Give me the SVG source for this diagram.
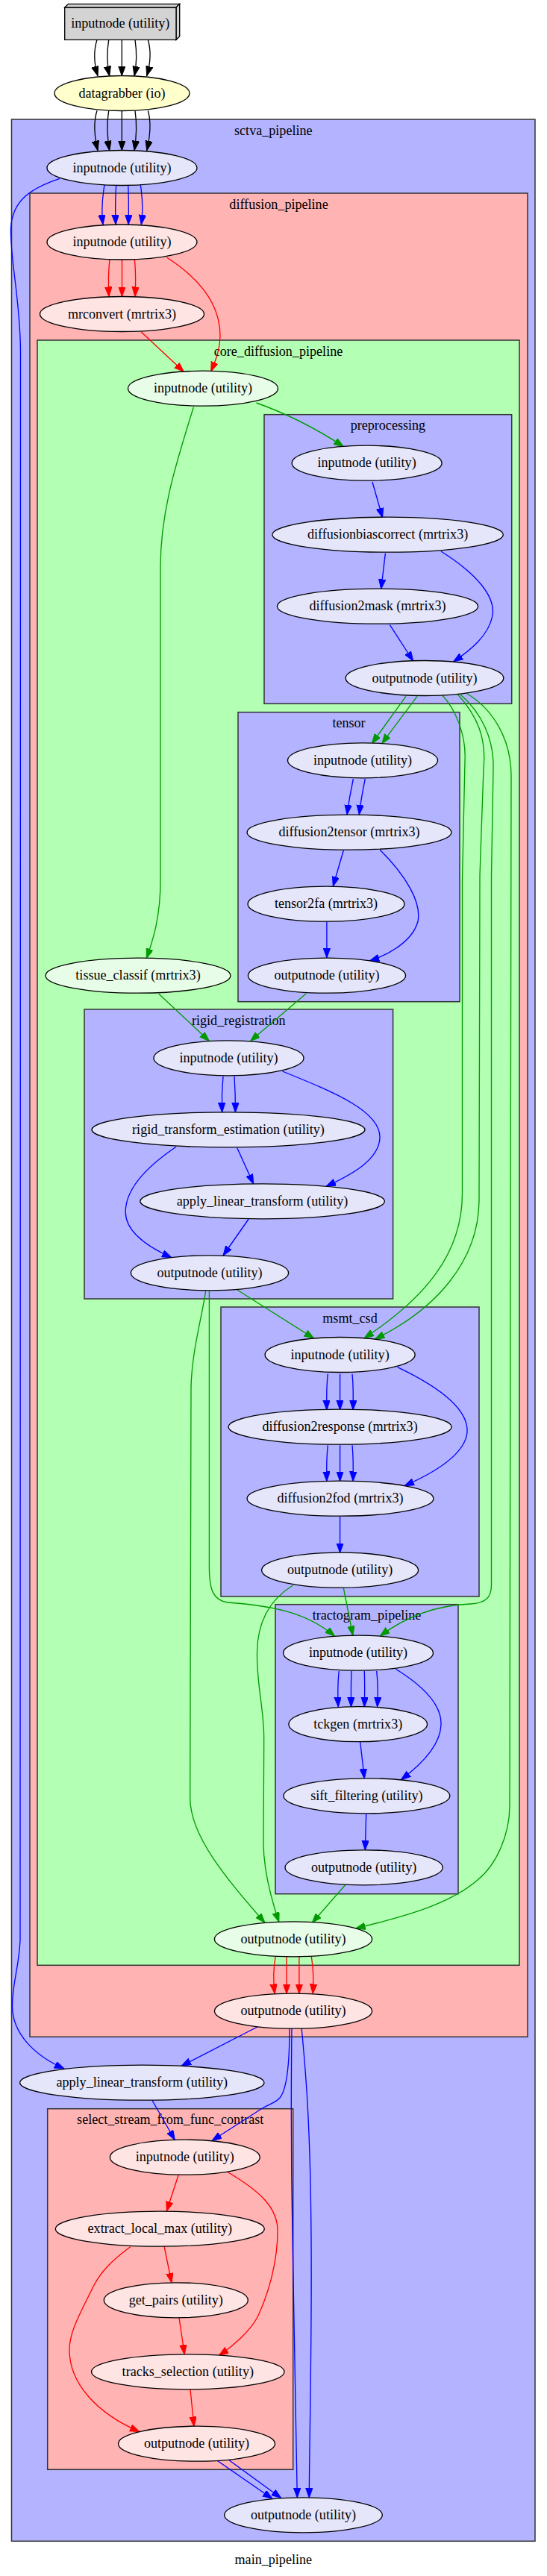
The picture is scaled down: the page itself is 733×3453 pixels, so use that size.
<svg xmlns="http://www.w3.org/2000/svg" width="733" height="3453" viewBox="0 0 733 3453">
<defs>
<style>
.t{font-family:"Liberation Serif","Times New Roman",serif;font-size:18.1px;text-anchor:middle;fill:#000}
.nd ellipse,.nd polygon{stroke:#000;stroke-width:1.33}
.cl rect{stroke:#333;stroke-width:1.5}
.cb{fill:#b3b3ff}.cr{fill:#ffb3b3}.cg{fill:#b3ffb3}
.fb{fill:#e6e6fa}.fr{fill:#ffe4e4}.fg{fill:#e8fde8}
.e{fill:none;stroke-width:1.33}
.k{stroke:#000;marker-end:url(#mk)}
.b{stroke:#0000ff;marker-end:url(#mb)}
.r{stroke:#ff0000;marker-end:url(#mr)}
.g{stroke:#009a00;marker-end:url(#mg)}
</style>
<marker id="mk" markerUnits="userSpaceOnUse" markerWidth="14" markerHeight="10" refX="13" refY="4.7" orient="auto"><path d="M0,0 L13,4.7 L0,9.4 z" fill="#000" stroke="#000" stroke-width="1"/></marker>
<marker id="mb" markerUnits="userSpaceOnUse" markerWidth="14" markerHeight="10" refX="13" refY="4.7" orient="auto"><path d="M0,0 L13,4.7 L0,9.4 z" fill="#0000ff" stroke="#0000ff" stroke-width="1"/></marker>
<marker id="mr" markerUnits="userSpaceOnUse" markerWidth="14" markerHeight="10" refX="13" refY="4.7" orient="auto"><path d="M0,0 L13,4.7 L0,9.4 z" fill="#ff0000" stroke="#ff0000" stroke-width="1"/></marker>
<marker id="mg" markerUnits="userSpaceOnUse" markerWidth="14" markerHeight="10" refX="13" refY="4.7" orient="auto"><path d="M0,0 L13,4.7 L0,9.4 z" fill="#009a00" stroke="#009a00" stroke-width="1"/></marker>
</defs>
<rect x="0" y="0" width="733" height="3453" fill="#fff"/>

<g id="clusters" class="cl">
<g id="cluster_sctva"><rect class="cb" x="15.5" y="160" width="701.5" height="3246.3"/><text class="t" x="366.3" y="180.5">sctva_pipeline</text></g>
<g id="cluster_diffusion"><rect class="cr" x="40" y="259" width="667" height="2471.3"/><text class="t" x="373.5" y="279.5">diffusion_pipeline</text></g>
<g id="cluster_core"><rect class="cg" x="50" y="456" width="646" height="2178.3"/><text class="t" x="373" y="476.5">core_diffusion_pipeline</text></g>
<g id="cluster_preproc"><rect class="cb" x="354" y="555.7" width="331.7" height="387.6"/><text class="t" x="519.9" y="576">preprocessing</text></g>
<g id="cluster_tensor"><rect class="cb" x="319" y="954.7" width="297" height="388"/><text class="t" x="467.5" y="975">tensor</text></g>
<g id="cluster_rigid"><rect class="cb" x="113" y="1353" width="413.6" height="388"/><text class="t" x="319.8" y="1373.5">rigid_registration</text></g>
<g id="cluster_msmt"><rect class="cb" x="296" y="1752" width="346" height="388"/><text class="t" x="469" y="1772.5">msmt_csd</text></g>
<g id="cluster_tracto"><rect class="cb" x="369" y="2150.7" width="245" height="388"/><text class="t" x="491.5" y="2171">tractogram_pipeline</text></g>
<g id="cluster_ssffc"><rect class="cr" x="63.7" y="2826.7" width="329" height="483.6"/><text class="t" x="228.2" y="2847">select_stream_from_func_contrast</text></g>
</g>

<g id="connectors">
<path class="e k" d="M130,53.3 C126,66 125,82 131,101.7"/>
<path class="e k" d="M145.7,53.3 C143,70 143,85 146.7,101.7"/>
<path class="e k" d="M163.3,53.3 L163.3,101.7"/>
<path class="e k" d="M181,53.3 C183.5,70 183.5,85 180,101.7"/>
<path class="e k" d="M198.3,53.3 C202,66 202.5,82 196.7,101.7"/>
<path class="e k" d="M130,148.3 C126,161 125,177 131,201.7"/>
<path class="e k" d="M145.7,148.3 C143,165 143,180 146.7,201.7"/>
<path class="e k" d="M163.3,148.3 L163.3,201.7"/>
<path class="e k" d="M181,148.3 C183.5,165 183.5,180 180,201.7"/>
<path class="e k" d="M198.3,148.3 C202,161 202.5,177 196.7,201.7"/>
<path class="e b" d="M140,248 C137,265 136,285 138,301"/>
<path class="e b" d="M155.7,248 C154.5,265 154.5,285 155.1,301"/>
<path class="e b" d="M171.7,248 C172.5,265 172.5,285 172,301"/>
<path class="e b" d="M188.3,248 C191,265 191.5,285 189.3,301"/>
<path class="e b" d="M80,239.3 C42,252 17,268 14.5,305 C13,345 27,400 27.5,470 L27,2600 C26,2635 16,2660 16.5,2690 C17,2725 45,2755 86,2773"/>
<path class="e r" d="M147,348 C145,365 145,380 146,397.5"/>
<path class="e r" d="M163.5,348 L163.5,397.5"/>
<path class="e r" d="M180.4,348 C182,365 182,380 181,397.5"/>
<path class="e r" d="M223.4,345 C270,375 295,410 295,450 C295,470 288,485 282.7,498"/>
<path class="e r" d="M189.3,445 L246.3,498.3"/>
<path class="e g" d="M343.5,540 C380,553 420,572 460.3,598.6"/>
<path class="e g" d="M259.3,545.7 C240,610 215,680 215,760 L215,1180 C215,1230 205,1260 196.3,1284.5"/>
<path class="e b" d="M499,646 L512.6,694"/>
<path class="e b" d="M516.4,741.7 L510.7,789.5"/>
<path class="e b" d="M591,739 C640,770 664,800 660,825 C655,852 630,872 607.5,887"/>
<path class="e b" d="M522.4,837.7 L553.7,886"/>
<path class="e g" d="M544,933.3 L498.3,996.7"/>
<path class="e g" d="M559,933.3 L511.7,996.7"/>
<path class="e g" d="M592.7,932 C610,950 625,985 623,1020 L619.5,1180 L619.5,1600 C619.5,1680 570,1740 488,1793.7"/>
<path class="e g" d="M613.3,930.7 C640,960 652,990 648,1030 L643,1173 L642,1610 C641,1690 585,1755 502.3,1795"/>
<path class="e g" d="M616.7,930.7 C645,955 662,990 661,1030 L658.5,1173 L658.5,2125 C658.5,2142 650,2149 630,2150 C580,2152 540,2170 509.3,2193"/>
<path class="e g" d="M625,929.3 C660,950 685,990 685,1040 L683,2420 C683,2460 665,2500 640,2520 C600,2555 530,2572 476.6,2585"/>
<path class="e b" d="M473.4,1044 C470,1060 467,1077 465,1092"/>
<path class="e b" d="M489.3,1044 C486,1060 483,1077 481.3,1092"/>
<path class="e b" d="M460.3,1140 L446.3,1188"/>
<path class="e b" d="M509.3,1139.3 C545,1175 565,1210 560,1235 C553,1262 520,1280 495.3,1288"/>
<path class="e b" d="M437.9,1235.5 L437.9,1284"/>
<path class="e g" d="M410.3,1331.7 L335.5,1395.5"/>
<path class="e g" d="M212.6,1332 L280.4,1395.5"/>
<path class="e b" d="M299,1442.7 C297.5,1458 297,1475 297.7,1491"/>
<path class="e b" d="M314,1442.7 C315,1458 315.5,1475 315.4,1491"/>
<path class="e b" d="M378.5,1436 C450,1465 510,1490 509,1525 C508,1555 470,1575 437,1590.3"/>
<path class="e b" d="M317.8,1538.7 L339.7,1587"/>
<path class="e b" d="M236,1537.3 C195,1565 168,1595 168.2,1625 C168.5,1650 195,1670 230,1685.7"/>
<path class="e b" d="M333.2,1634 L299,1683"/>
<path class="e g" d="M317.8,1729 L420.6,1794"/>
<path class="e g" d="M275.7,1729.7 C272,1760 257,1810 256,1860 L254.7,2410 C254.7,2462 305,2520 355,2577.4"/>
<path class="e g" d="M280.4,1729.7 L280.4,2100 C280.4,2130 285,2145 305,2148 C360,2152 410,2160 448.6,2193.4"/>
<path class="e b" d="M439.3,1841.7 C437.5,1857 437.5,1873 437.9,1890"/>
<path class="e b" d="M455.6,1841.7 L455.6,1890"/>
<path class="e b" d="M472,1841.7 C473.5,1857 473.5,1873 473,1890"/>
<path class="e b" d="M532.7,1832.7 C590,1860 628,1890 626,1920 C623,1950 580,1975 542,1991.7"/>
<path class="e b" d="M439.3,1937.3 C437.5,1953 437.5,1969 437.9,1985.5"/>
<path class="e b" d="M455.6,1937.3 L455.6,1985.5"/>
<path class="e b" d="M472,1937.3 C473.5,1953 473.5,1969 473,1985.5"/>
<path class="e b" d="M455.6,2032.5 L455.6,2081.5"/>
<path class="e g" d="M460.3,2128.5 L472.9,2192.5"/>
<path class="e g" d="M392.5,2125 C365,2142 345,2170 344.5,2215 C344,2260 353.7,2290 353.7,2330 L353,2470 C353,2510 365,2550 373.8,2576.3"/>
<path class="e b" d="M454.2,2240 C452.5,2255 452.5,2272 453.3,2288"/>
<path class="e b" d="M471,2240 C470.3,2255 470.3,2272 470.6,2288"/>
<path class="e b" d="M488.3,2240 C488.8,2255 488.8,2272 488.3,2288"/>
<path class="e b" d="M504.7,2240 C506.5,2255 506.5,2272 505.6,2288"/>
<path class="e b" d="M530.4,2237.3 C575,2265 592,2290 591,2312 C590,2340 565,2365 537.4,2385.5"/>
<path class="e b" d="M482.7,2334.7 L488.3,2384"/>
<path class="e b" d="M490.7,2431 L489.3,2480"/>
<path class="e g" d="M462.6,2526.8 L418.2,2577.5"/>
<path class="e r" d="M369.2,2622.5 C366,2640 366,2655 368.2,2672.5"/>
<path class="e r" d="M384.1,2622.5 L384.1,2672.5"/>
<path class="e r" d="M400.9,2622.5 L400.9,2672.5"/>
<path class="e r" d="M417.3,2622.5 C420,2640 420.5,2655 419.2,2672.5"/>
<path class="e b" d="M345.8,2716.5 L243,2769.4"/>
<path class="e b" d="M388,2719 C388,2760 385,2800 375,2812 C368,2820 360,2820 350,2827 L284,2869.5"/>
<path class="e b" d="M391,2719.2 C390,2800 390,2900 392,3000 C395,3150 397.5,3280 398.3,3348"/>
<path class="e b" d="M404.2,2719 C410,2780 416,2850 417,3000 C418,3150 414.5,3280 414.3,3348"/>
<path class="e b" d="M204,2815.5 L234.3,2868.5"/>
<path class="e r" d="M239.3,2915 L223.3,2964"/>
<path class="e r" d="M305,2911.5 C350,2938 372,2960 372,2990 C372,3040 355,3085 345,3106 C335,3125 312,3145 293.3,3157.5"/>
<path class="e r" d="M220,3011 L230,3060"/>
<path class="e r" d="M175,3011.5 C150,3030 135,3045 125,3065 C108,3100 93,3125 93,3150 C93,3195 130,3235 187,3259.6"/>
<path class="e r" d="M240,3107 L247.3,3156"/>
<path class="e r" d="M255,3203 L260,3252.5"/>
<path class="e b" d="M290.7,3298 L365,3349.5"/>
<path class="e b" d="M306,3297 L376.7,3348.5"/>
</g>

<g id="n_top" class="nd">
<polygon points="86.7,10 91.4,5.3 240.7,5.3 236,10" fill="#d3d3d3"/>
<polygon points="236,10 240.7,5.3 240.7,48.6 236,53.3" fill="#d3d3d3"/>
<polygon points="86.7,10 236,10 236,53.3 86.7,53.3" fill="#d3d3d3"/>
<text class="t" x="161.3" y="37">inputnode (utility)</text>
</g>
<g id="n_datagrabber" class="nd"><ellipse cx="163.5" cy="125" rx="90.5" ry="23.5" fill="#ffffcc"/><text class="t" x="163.5" y="130.5">datagrabber (io)</text></g>
<g id="n_sctva_input" class="nd"><ellipse class="fb" cx="163.5" cy="225" rx="100.5" ry="23.5"/><text class="t" x="163.5" y="230.5">inputnode (utility)</text></g>
<g id="n_diff_input" class="nd"><ellipse class="fr" cx="163.5" cy="324.5" rx="100.5" ry="23.5"/><text class="t" x="163.5" y="330">inputnode (utility)</text></g>
<g id="n_mrconvert" class="nd"><ellipse class="fr" cx="163.5" cy="421" rx="110" ry="23.5"/><text class="t" x="163.5" y="426.5">mrconvert (mrtrix3)</text></g>
<g id="n_core_input" class="nd"><ellipse class="fg" cx="272" cy="520.7" rx="100.5" ry="23.5"/><text class="t" x="272" y="526.2">inputnode (utility)</text></g>
<g id="n_pre_input" class="nd"><ellipse class="fb" cx="491.6" cy="620.7" rx="100.5" ry="23.5"/><text class="t" x="491.6" y="626.2">inputnode (utility)</text></g>
<g id="n_biascorrect" class="nd"><ellipse class="fb" cx="519.6" cy="716.7" rx="154.7" ry="23.5"/><text class="t" x="519.6" y="722.2">diffusionbiascorrect (mrtrix3)</text></g>
<g id="n_mask" class="nd"><ellipse class="fb" cx="506" cy="812.7" rx="134.6" ry="23.5"/><text class="t" x="506" y="818.2">diffusion2mask (mrtrix3)</text></g>
<g id="n_pre_output" class="nd"><ellipse class="fb" cx="569" cy="909" rx="105.8" ry="23.5"/><text class="t" x="569" y="914.5">outputnode (utility)</text></g>
<g id="n_tensor_input" class="nd"><ellipse class="fb" cx="486" cy="1019.3" rx="100.5" ry="23.5"/><text class="t" x="486" y="1024.8">inputnode (utility)</text></g>
<g id="n_d2tensor" class="nd"><ellipse class="fb" cx="468" cy="1115.7" rx="137" ry="23.5"/><text class="t" x="468" y="1121.2">diffusion2tensor (mrtrix3)</text></g>
<g id="n_tensor2fa" class="nd"><ellipse class="fb" cx="437" cy="1211.7" rx="105" ry="23.5"/><text class="t" x="437" y="1217.2">tensor2fa (mrtrix3)</text></g>
<g id="n_tensor_output" class="nd"><ellipse class="fb" cx="438" cy="1307.7" rx="105.6" ry="23.5"/><text class="t" x="438" y="1313.2">outputnode (utility)</text></g>
<g id="n_tissue" class="nd"><ellipse class="fg" cx="185" cy="1307.7" rx="124" ry="23.5"/><text class="t" x="185" y="1313.2">tissue_classif (mrtrix3)</text></g>
<g id="n_rigid_input" class="nd"><ellipse class="fb" cx="306.5" cy="1418.3" rx="100.5" ry="23.5"/><text class="t" x="306.5" y="1423.8">inputnode (utility)</text></g>
<g id="n_rte" class="nd"><ellipse class="fb" cx="306" cy="1514.3" rx="183" ry="23.5"/><text class="t" x="306" y="1519.8">rigid_transform_estimation (utility)</text></g>
<g id="n_alt_inner" class="nd"><ellipse class="fb" cx="351.6" cy="1610.3" rx="163.8" ry="23.5"/><text class="t" x="351.6" y="1615.8">apply_linear_transform (utility)</text></g>
<g id="n_rigid_output" class="nd"><ellipse class="fb" cx="281" cy="1706.3" rx="105.6" ry="23.5"/><text class="t" x="281" y="1711.8">outputnode (utility)</text></g>
<g id="n_msmt_input" class="nd"><ellipse class="fb" cx="455.6" cy="1816" rx="100.5" ry="23.5"/><text class="t" x="455.6" y="1821.5">inputnode (utility)</text></g>
<g id="n_d2response" class="nd"><ellipse class="fb" cx="455.6" cy="1912.7" rx="149.5" ry="23.5"/><text class="t" x="455.6" y="1918.2">diffusion2response (mrtrix3)</text></g>
<g id="n_d2fod" class="nd"><ellipse class="fb" cx="456" cy="2008.7" rx="125" ry="23.5"/><text class="t" x="456" y="2014.2">diffusion2fod (mrtrix3)</text></g>
<g id="n_msmt_output" class="nd"><ellipse class="fb" cx="455.6" cy="2104.7" rx="105" ry="23.5"/><text class="t" x="455.6" y="2110.2">outputnode (utility)</text></g>
<g id="n_tracto_input" class="nd"><ellipse class="fb" cx="480" cy="2215.7" rx="100.5" ry="23.5"/><text class="t" x="480" y="2221.2">inputnode (utility)</text></g>
<g id="n_tckgen" class="nd"><ellipse class="fb" cx="479.7" cy="2311.2" rx="92.8" ry="23.5"/><text class="t" x="479.7" y="2316.7">tckgen (mrtrix3)</text></g>
<g id="n_sift" class="nd"><ellipse class="fb" cx="491.4" cy="2407.3" rx="111.4" ry="23.5"/><text class="t" x="491.4" y="2412.8">sift_filtering (utility)</text></g>
<g id="n_tracto_output" class="nd"><ellipse class="fb" cx="487.6" cy="2503.3" rx="105.6" ry="23.5"/><text class="t" x="487.6" y="2508.8">outputnode (utility)</text></g>
<g id="n_core_output" class="nd"><ellipse class="fg" cx="393" cy="2599.3" rx="105.6" ry="23.5"/><text class="t" x="393" y="2604.8">outputnode (utility)</text></g>
<g id="n_diff_output" class="nd"><ellipse class="fr" cx="393" cy="2695.7" rx="105.6" ry="23.5"/><text class="t" x="393" y="2701.2">outputnode (utility)</text></g>
<g id="n_alt_sctva" class="nd"><ellipse class="fb" cx="190.3" cy="2791.7" rx="163.7" ry="23.5"/><text class="t" x="190.3" y="2797.2">apply_linear_transform (utility)</text></g>
<g id="n_ssffc_input" class="nd"><ellipse class="fr" cx="247.8" cy="2891.7" rx="100.5" ry="23.5"/><text class="t" x="247.8" y="2897.2">inputnode (utility)</text></g>
<g id="n_extract" class="nd"><ellipse class="fr" cx="214.3" cy="2987.7" rx="140" ry="23.5"/><text class="t" x="214.3" y="2993.2">extract_local_max (utility)</text></g>
<g id="n_get_pairs" class="nd"><ellipse class="fr" cx="235.8" cy="3083.3" rx="96.5" ry="23.5"/><text class="t" x="235.8" y="3088.8">get_pairs (utility)</text></g>
<g id="n_tracks_sel" class="nd"><ellipse class="fr" cx="251.8" cy="3179.3" rx="129.2" ry="23.5"/><text class="t" x="251.8" y="3184.8">tracks_selection (utility)</text></g>
<g id="n_ssffc_output" class="nd"><ellipse class="fr" cx="263.5" cy="3275.7" rx="105" ry="23.5"/><text class="t" x="263.5" y="3281.2">outputnode (utility)</text></g>
<g id="n_sctva_output" class="nd"><ellipse class="fb" cx="406.5" cy="3371.3" rx="105.8" ry="23.5"/><text class="t" x="406.5" y="3376.8">outputnode (utility)</text></g>

<text class="t" x="366.3" y="3437">main_pipeline</text>
</svg>
